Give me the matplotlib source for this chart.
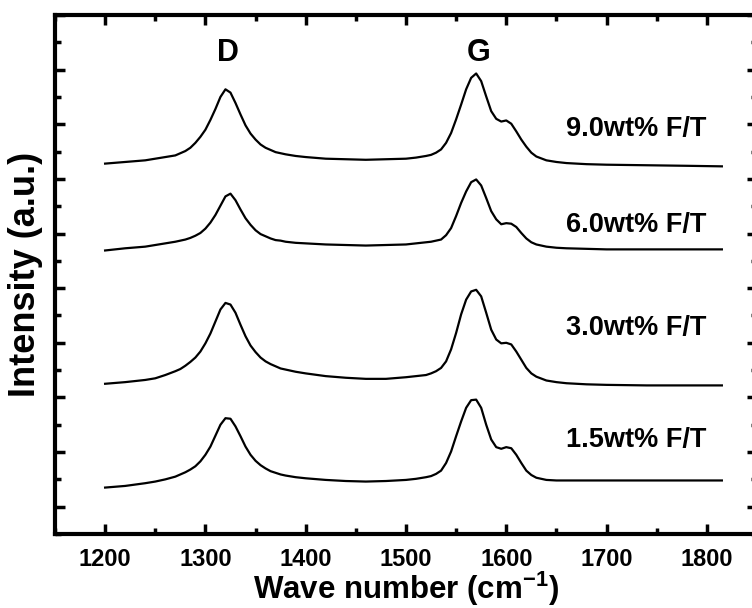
import matplotlib
matplotlib.use("Agg")
import matplotlib.pyplot as plt
from matplotlib.ticker import MultipleLocator

plt.rcParams['font.family'] = ['Liberation Sans', 'DejaVu Sans']
plt.rcParams['font.weight'] = 'bold'
plt.rcParams['mathtext.fontset'] = 'custom'
plt.rcParams['mathtext.rm'] = 'Liberation Sans:bold'
plt.rcParams['mathtext.bf'] = 'Liberation Sans:bold'
plt.rcParams['mathtext.it'] = 'Liberation Sans:bold'

# Raman shift (cm-1)
wn = [1200, 1220, 1240, 1250, 1260,
      1270, 1275, 1280, 1285, 1290, 1295, 1300, 1305, 1310, 1315, 1320, 1325,
      1330, 1335, 1340, 1345, 1350, 1355, 1360, 1365, 1370, 1375, 1380,
      1390, 1400, 1420, 1440, 1460, 1480, 1500, 1510,
      1520, 1525, 1530, 1535, 1540, 1545, 1550, 1555, 1560, 1565, 1570, 1575,
      1580, 1585, 1590, 1595, 1600, 1605, 1610, 1615, 1620, 1625, 1630,
      1640, 1650, 1660, 1680, 1700, 1740, 1780, 1815]

# stacked intensities (a.u.), one list per F/T loading
int_15 = [3.5, 3.8, 4.3, 4.6, 5.0,
          5.5, 5.9, 6.3, 6.8, 7.4, 8.3, 9.5, 11.0, 13.0, 15.0, 16.2, 16.1,
          14.7, 12.9, 11.0, 9.5, 8.4, 7.6, 7.0, 6.5, 6.2, 5.9, 5.7,
          5.4, 5.2, 4.9, 4.7, 4.6, 4.7, 4.9, 5.1,
          5.4, 5.6, 6.0, 6.6, 8.0, 10.1, 12.9, 15.6, 18.1, 19.5, 19.6, 18.1,
          15.0, 12.3, 10.9, 10.6, 10.9, 10.7, 9.5, 8.0, 6.6, 5.8, 5.3,
          4.9, 4.8, 4.8, 4.8, 4.8, 4.8, 4.8, 4.8]
int_30 = [22.5, 22.8, 23.2, 23.5, 24.1,
          24.8, 25.2, 25.8, 26.5, 27.3, 28.4, 29.9, 31.7, 33.9, 36.1, 37.3, 37.0,
          35.5, 33.3, 31.2, 29.5, 28.3, 27.3, 26.6, 26.1, 25.7, 25.3, 25.1,
          24.7, 24.4, 23.9, 23.6, 23.4, 23.4, 23.7, 23.9,
          24.1, 24.4, 24.8, 25.4, 26.6, 28.8, 31.8, 35.2, 37.9, 39.4, 39.7, 38.5,
          35.5, 32.4, 30.6, 29.9, 30.0, 29.7, 28.4, 26.9, 25.4, 24.4, 23.8,
          23.1, 22.8, 22.6, 22.4, 22.3, 22.2, 22.2, 22.2]
int_60 = [46.9, 47.3, 47.6, 47.9, 48.2,
          48.5, 48.7, 48.9, 49.2, 49.6, 50.1, 50.9, 52.0, 53.4, 55.1, 56.8, 57.3,
          56.1, 54.4, 52.8, 51.6, 50.6, 49.9, 49.5, 49.1, 48.8, 48.7, 48.5,
          48.3, 48.2, 48.0, 47.9, 47.8, 47.9, 48.0, 48.2,
          48.4, 48.5, 48.7, 48.9, 49.7, 51.0, 53.2, 55.6, 57.7, 59.4, 59.9, 58.8,
          56.5, 54.1, 52.6, 51.7, 51.9, 51.8, 51.2, 50.1, 49.1, 48.4, 48.0,
          47.6, 47.4, 47.3, 47.2, 47.1, 47.1, 47.1, 47.1]
int_90 = [62.8, 63.1, 63.4, 63.7, 64.0,
          64.3, 64.7, 65.1, 65.7, 66.6, 67.7, 69.0, 70.8, 72.8, 75.0, 76.4, 75.8,
          73.9, 71.8, 69.8, 68.3, 67.2, 66.3, 65.7, 65.3, 64.9, 64.7, 64.5,
          64.2, 64.0, 63.7, 63.6, 63.5, 63.6, 63.7, 63.9,
          64.2, 64.4, 64.8, 65.4, 66.6, 68.4, 70.9, 73.6, 76.4, 78.5, 79.3, 77.9,
          75.1, 72.4, 71.0, 70.5, 70.7, 70.1, 68.7, 67.2, 65.9, 64.8, 64.1,
          63.4, 63.1, 62.9, 62.7, 62.6, 62.5, 62.4, 62.3]

spectra = [int_15, int_30, int_60, int_90]
labels = ['1.5wt% F/T', '3.0wt% F/T', '6.0wt% F/T', '9.0wt% F/T']
label_y = [11.0, 31.5, 50.2, 67.8]

x_ticks = [1200, 1300, 1400, 1500, 1600, 1700, 1800]

fig = plt.figure(figsize=(7.52, 6.08), dpi=100)
ax = fig.add_axes([0.0731, 0.1217, 0.9335, 0.8536])

for s in spectra:
    ax.plot(wn, s, color='black', lw=1.6, solid_joinstyle='round')

for lab, ly in zip(labels, label_y):
    ax.text(1800, ly, lab, ha='right', va='baseline', fontsize=19.5, fontweight='bold')

ax.text(1322, 81.5, 'D', ha='center', va='baseline', fontsize=22, fontweight='bold')
ax.text(1572, 81.5, 'G', ha='center', va='baseline', fontsize=22, fontweight='bold')

ax.set_xlim(1150, 1850)
ax.set_ylim(-5, 90)
ax.set_xticks(x_ticks, [str(t) for t in x_ticks], fontsize=17, fontweight='bold')
ax.xaxis.set_minor_locator(MultipleLocator(50))
ax.yaxis.set_major_locator(MultipleLocator(10))
ax.yaxis.set_minor_locator(MultipleLocator(5))
ax.tick_params(which='both', direction='in', top=True, right=True, width=2.5)
ax.tick_params(which='major', length=7.5, pad=10)
ax.tick_params(which='minor', length=4)
ax.tick_params(axis='y', labelleft=False)
for sp in ax.spines.values():
    sp.set_linewidth(3)

ax.set_xlabel(r'Wave number (cm$^{-1}$)', fontsize=22.5, fontweight='bold', labelpad=-1)
ax.set_ylabel('Intensity (a.u.)', fontsize=26, fontweight='bold', labelpad=5)

fig.savefig('out.png', dpi=100)
